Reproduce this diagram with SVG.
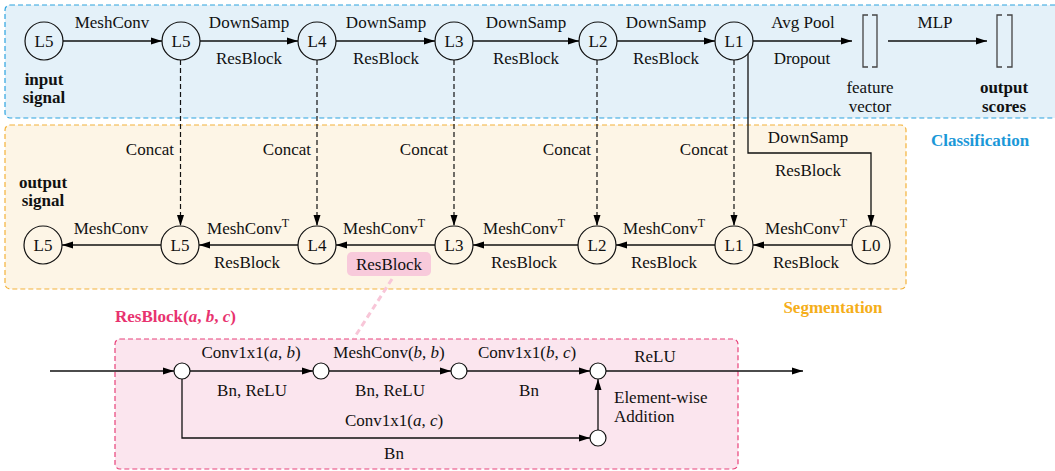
<svg xmlns="http://www.w3.org/2000/svg" width="1055" height="471" viewBox="0 0 1055 471">
<defs>
<marker id="ah" markerUnits="userSpaceOnUse" markerWidth="12" markerHeight="8" refX="11" refY="4" orient="auto"><path d="M0,0.5 L11,4 L0,7.5 z" fill="#000"/></marker>
<style>
text{font-family:"Liberation Serif","Times New Roman",serif;font-size:17px;fill:#111;text-anchor:middle}
.b{font-weight:bold}
.i{font-style:italic}
.sup{font-size:12px}
.n{fill:none;stroke:#111;stroke-width:1.2}
.nw{fill:#fff;stroke:#111;stroke-width:1.2}
.e{fill:none;stroke:#111;stroke-width:1.3}
.d{fill:none;stroke:#111;stroke-width:1.2;stroke-dasharray:5,3}
.br{fill:none;stroke:#444;stroke-width:1.3}
</style>
</defs>
<g id="regions">
<rect x="5" y="5" width="1060" height="113" rx="5" fill="#e4f1f9" stroke="#2da4e0" stroke-width="1.2" stroke-dasharray="5,3"/>
<rect x="5" y="125" width="901" height="164" rx="5" fill="#fdf5e6" stroke="#f3b23a" stroke-width="1.2" stroke-dasharray="5,3"/>
<rect x="115" y="339" width="623" height="130" rx="5" fill="#fbe5ee" stroke="#e8427a" stroke-width="1.2" stroke-dasharray="5,3"/>
<text x="980" y="146" class="b" style="fill:#1b98d8">Classification</text>
<text x="833" y="313" class="b" style="fill:#f5ae1a">Segmentation</text>
<text x="115" y="322" class="b" style="fill:#e8336f;text-anchor:start">ResBlock(<tspan class="i">a</tspan>, <tspan class="i">b</tspan>, <tspan class="i">c</tspan>)</text>
</g>
<g id="connectors">
<line class="e" x1="63" y1="41" x2="162" y2="41" marker-end="url(#ah)"/>
<line class="e" x1="200" y1="41" x2="298" y2="41" marker-end="url(#ah)"/>
<line class="e" x1="336" y1="41" x2="435" y2="41" marker-end="url(#ah)"/>
<line class="e" x1="473" y1="41" x2="579" y2="41" marker-end="url(#ah)"/>
<line class="e" x1="617" y1="41" x2="715" y2="41" marker-end="url(#ah)"/>
<line class="e" x1="753" y1="41" x2="852" y2="41" marker-end="url(#ah)"/>
<line class="e" x1="888" y1="41" x2="987" y2="41" marker-end="url(#ah)"/>
<line class="d" x1="180.5" y1="60" x2="180.5" y2="226" marker-end="url(#ah)"/>
<line class="d" x1="317" y1="60" x2="317" y2="226" marker-end="url(#ah)"/>
<line class="d" x1="454" y1="60" x2="454" y2="226" marker-end="url(#ah)"/>
<line class="d" x1="597" y1="60" x2="597" y2="226" marker-end="url(#ah)"/>
<line class="d" x1="734" y1="60" x2="734" y2="226" marker-end="url(#ah)"/>
<polyline class="e" points="748,54 748,153 871,153 871,226" marker-end="url(#ah)"/>
<line class="e" x1="852" y1="245" x2="753" y2="245" marker-end="url(#ah)"/>
<line class="e" x1="715" y1="245" x2="616" y2="245" marker-end="url(#ah)"/>
<line class="e" x1="578" y1="245" x2="473" y2="245" marker-end="url(#ah)"/>
<line class="e" x1="435" y1="245" x2="336" y2="245" marker-end="url(#ah)"/>
<line class="e" x1="298" y1="245" x2="199" y2="245" marker-end="url(#ah)"/>
<line class="e" x1="161" y1="245" x2="62" y2="245" marker-end="url(#ah)"/>
<line x1="392" y1="279" x2="354" y2="338" stroke="#f8c6d8" stroke-width="3" stroke-dasharray="6,4"/>
<line class="e" x1="50" y1="371" x2="174" y2="371" marker-end="url(#ah)"/>
<line class="e" x1="190" y1="371" x2="313" y2="371" marker-end="url(#ah)"/>
<line class="e" x1="329" y1="371" x2="451" y2="371" marker-end="url(#ah)"/>
<line class="e" x1="467" y1="371" x2="590" y2="371" marker-end="url(#ah)"/>
<line class="e" x1="606" y1="371" x2="803" y2="371" marker-end="url(#ah)"/>
<polyline class="e" points="182,379 182,438 590,438" marker-end="url(#ah)"/>
<line class="e" x1="598" y1="430" x2="598" y2="379" marker-end="url(#ah)"/>
</g>
<g id="edge-labels">
<text x="112" y="28">MeshConv</text>
<text x="249" y="28">DownSamp</text>
<text x="249" y="64">ResBlock</text>
<text x="386" y="28">DownSamp</text>
<text x="386" y="64">ResBlock</text>
<text x="526" y="28">DownSamp</text>
<text x="526" y="64">ResBlock</text>
<text x="666" y="28">DownSamp</text>
<text x="666" y="64">ResBlock</text>
<text x="803" y="28">Avg Pool</text>
<text x="802" y="64">Dropout</text>
<text x="935" y="28">MLP</text>
<text x="174" y="155" style="text-anchor:end">Concat</text>
<text x="311" y="155" style="text-anchor:end">Concat</text>
<text x="448" y="155" style="text-anchor:end">Concat</text>
<text x="591" y="155" style="text-anchor:end">Concat</text>
<text x="728" y="155" style="text-anchor:end">Concat</text>
<text x="808" y="143">DownSamp</text>
<text x="808" y="176">ResBlock</text>
<text x="111" y="234">MeshConv</text>
<text x="248" y="234">MeshConv<tspan class="sup" dy="-7">T</tspan></text>
<text x="247" y="268">ResBlock</text>
<text x="384" y="234">MeshConv<tspan class="sup" dy="-7">T</tspan></text>
<rect x="347" y="252" width="84" height="24" rx="5" fill="#f8cadb"/>
<text x="389" y="270">ResBlock</text>
<text x="524" y="234">MeshConv<tspan class="sup" dy="-7">T</tspan></text>
<text x="524" y="268">ResBlock</text>
<text x="664" y="234">MeshConv<tspan class="sup" dy="-7">T</tspan></text>
<text x="664" y="268">ResBlock</text>
<text x="806" y="234">MeshConv<tspan class="sup" dy="-7">T</tspan></text>
<text x="806" y="268">ResBlock</text>
<text x="251" y="358">Conv1x1(<tspan class="i">a</tspan>, <tspan class="i">b</tspan>)</text>
<text x="252" y="396">Bn, ReLU</text>
<text x="389" y="358">MeshConv(<tspan class="i">b</tspan>, <tspan class="i">b</tspan>)</text>
<text x="390" y="396">Bn, ReLU</text>
<text x="527" y="358">Conv1x1(<tspan class="i">b</tspan>, <tspan class="i">c</tspan>)</text>
<text x="529" y="396">Bn</text>
<text x="655" y="362">ReLU</text>
<text x="394" y="426">Conv1x1(<tspan class="i">a</tspan>, <tspan class="i">c</tspan>)</text>
<text x="394" y="459">Bn</text>
<text x="614" y="403" style="text-anchor:start">Element-wise</text>
<text x="614" y="422" style="text-anchor:start">Addition</text>
</g>
<g id="node-in-L5"><circle class="n" cx="44" cy="41" r="19"/><text x="44" y="47">L5</text><text x="44" y="85" class="b">input</text><text x="44" y="103" class="b">signal</text></g>
<g id="node-enc-L5"><circle class="n" cx="181" cy="41" r="19"/><text x="181" y="47">L5</text></g>
<g id="node-enc-L4"><circle class="n" cx="317" cy="41" r="19"/><text x="317" y="47">L4</text></g>
<g id="node-enc-L3"><circle class="n" cx="454" cy="41" r="19"/><text x="454" y="47">L3</text></g>
<g id="node-enc-L2"><circle class="n" cx="598" cy="41" r="19"/><text x="598" y="47">L2</text></g>
<g id="node-enc-L1"><circle class="n" cx="734" cy="41" r="19"/><text x="734" y="47">L1</text></g>
<g id="node-feature"><path class="br" d="M868,15 h-5 v52 h5 M872,15 h5 v52 h-5"/><text x="870" y="93">feature</text><text x="870" y="112">vector</text></g>
<g id="node-scores"><path class="br" d="M1002,15 h-5 v52 h5 M1007,15 h5 v52 h-5"/><text x="1004" y="93" class="b">output</text><text x="1004" y="112" class="b">scores</text></g>
<g id="node-out-L5"><circle class="n" cx="43" cy="245" r="19"/><text x="43" y="251">L5</text><text x="43" y="188" class="b">output</text><text x="43" y="206" class="b">signal</text></g>
<g id="node-dec-L5"><circle class="n" cx="180" cy="245" r="19"/><text x="180" y="251">L5</text></g>
<g id="node-dec-L4"><circle class="n" cx="317" cy="245" r="19"/><text x="317" y="251">L4</text></g>
<g id="node-dec-L3"><circle class="n" cx="454" cy="245" r="19"/><text x="454" y="251">L3</text></g>
<g id="node-dec-L2"><circle class="n" cx="597" cy="245" r="19"/><text x="597" y="251">L2</text></g>
<g id="node-dec-L1"><circle class="n" cx="734" cy="245" r="19"/><text x="734" y="251">L1</text></g>
<g id="node-dec-L0"><circle class="n" cx="871" cy="245" r="19"/><text x="871" y="251">L0</text></g>
<g id="rb-n1"><circle class="nw" cx="182" cy="371" r="8"/></g>
<g id="rb-n2"><circle class="nw" cx="321" cy="371" r="8"/></g>
<g id="rb-n3"><circle class="nw" cx="459" cy="371" r="8"/></g>
<g id="rb-add"><circle class="nw" cx="598" cy="371" r="8"/></g>
<g id="rb-skip"><circle class="nw" cx="598" cy="438" r="8"/></g>
</svg>
